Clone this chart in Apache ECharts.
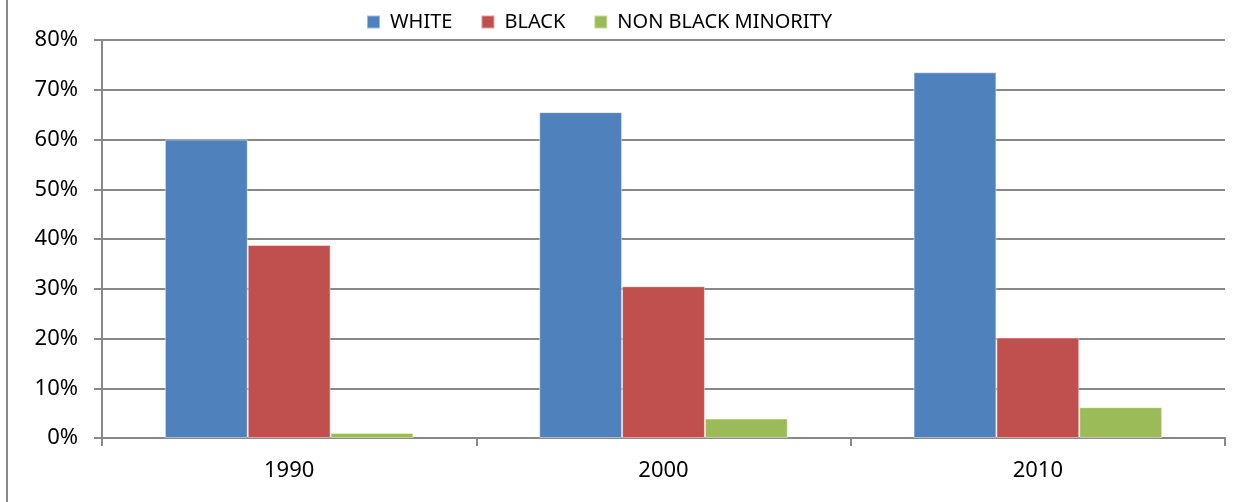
<!DOCTYPE html>
<html><head><meta charset="utf-8">
<script src="https://cdn.jsdelivr.net/npm/echarts@6/dist/echarts.min.js"></script>
<style>html,body{margin:0;padding:0;background:#fff}#c{width:1253px;height:502px}</style>
</head><body><div id="c"></div>
<script>
const categories = ['1990', '2000', '2010'];
const white = [60.0, 65.5, 73.5];
const black = [38.8, 30.5, 20.2];
const nonBlackMinority = [1.0, 3.9, 6.2];
const seriesNames = ['WHITE', 'BLACK', 'NON BLACK MINORITY'];
const colors = ['#4F81BD', '#C0504D', '#9BBB59'];

const chart = echarts.init(document.getElementById('c'));
const font = "'Noto Sans', 'Open Sans', sans-serif";
const mk = (name, data, color) => ({
  name, type: 'bar', data, barGap: '0%', barCategoryGap: '33.6%',
  itemStyle: { color, borderColor: 'rgba(255,255,255,0.45)', borderWidth: 1 }
});
chart.setOption({
  animation: false,
  textStyle: { fontFamily: font },
  color: colors,
  legend: {
    top: 7, left: 361, itemWidth: 13, itemHeight: 13, itemGap: 28,
    icon: 'rect',
    textStyle: { fontSize: 20, color: '#000', fontFamily: font, padding: [0, 0, 0, 5] },
    data: seriesNames
  },
  grid: { left: 102, right: 28, top: 40, bottom: 64, containLabel: false },
  xAxis: {
    type: 'category', data: categories,
    axisLine: { lineStyle: { color: '#888', width: 2 } },
    axisTick: { show: true, length: 8, lineStyle: { color: '#888', width: 2 } },
    axisLabel: { fontSize: 22, color: '#000', margin: 22, fontFamily: font },
    splitLine: { show: false }
  },
  yAxis: {
    type: 'value', min: 0, max: 80, interval: 10,
    axisLine: { show: true, lineStyle: { color: '#888', width: 2 } },
    axisTick: { show: true, length: 8, lineStyle: { color: '#888', width: 2 } },
    axisLabel: { fontSize: 22, color: '#000', margin: 24, formatter: '{value}%', fontFamily: font },
    splitLine: { lineStyle: { color: '#888', width: 2 } }
  },
  graphic: [{
    type: 'line', shape: { x1: 7, y1: 0, x2: 7, y2: 502 },
    style: { stroke: '#888', lineWidth: 2 }
  }],
  series: [
    mk(seriesNames[0], white, colors[0]),
    mk(seriesNames[1], black, colors[1]),
    mk(seriesNames[2], nonBlackMinority, colors[2])
  ]
});
</script></body></html>
